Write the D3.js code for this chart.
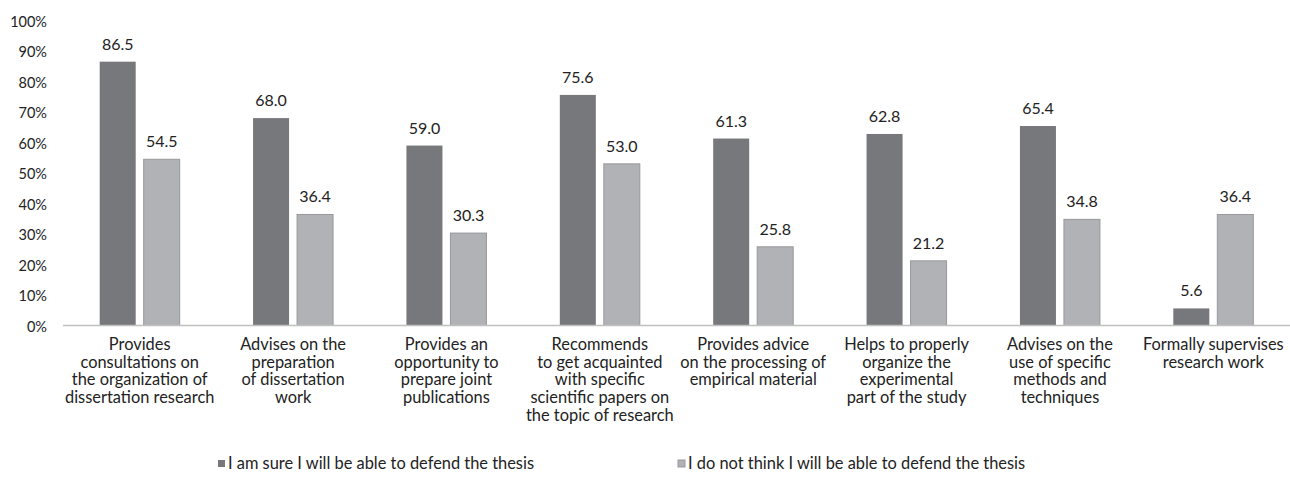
<!DOCTYPE html>
<html><head><meta charset="utf-8">
<script src="https://cdn.jsdelivr.net/npm/d3@7"></script>
<style>body{margin:0;background:#fff}svg text{font-family:"Lato",sans-serif;fill:#222}</style>
</head><body><svg id="c" width="1290" height="497"></svg>
<script>
const categories = [
  ["Provides","consultations on","the organization of","dissertation research"],
  ["Advises on the","preparation","of dissertation","work"],
  ["Provides an","opportunity to","prepare joint","publications"],
  ["Recommends","to get acquainted","with specific","scientific papers on","the topic of research"],
  ["Provides advice","on the processing of","empirical material"],
  ["Helps to properly","organize the","experimental","part of the study"],
  ["Advises on the","use of specific","methods and","techniques"],
  ["Formally supervises","research work"]
];
const seriesNames = ["I am sure I will be able to defend the thesis","I do not think I will be able to defend the thesis"];
const sure = [86.5,68.0,59.0,75.6,61.3,62.8,65.4,5.6];
const notSure = [54.5,36.4,30.3,53.0,25.8,21.2,34.8,36.4];
const yTicks = [0,10,20,30,40,50,60,70,80,90,100];
const colors = ["#77787b","#b1b2b6"];
const strokes = ["#77787b","#97989b"];

const svg = d3.select("#c");
const x0 = d3.scaleBand().domain(d3.range(categories.length)).range([63,1290]);
const y = d3.scaleLinear().domain([0,100]).range([325.5,20.5]);
const barW = 36, gap = 8;

svg.append("g").selectAll("text").data(yTicks).join("text")
  .attr("x",47).attr("y",d=>y(d)+1).attr("dy","0.35em").attr("text-anchor","end")
  .style("font-size","14.5px").text(d=>d+"%");

const data = [sure, notSure];
data.forEach((vals,s)=>{
  const g = svg.append("g");
  g.selectAll("rect").data(vals).join("rect")
    .attr("x",(d,i)=>x0(i)+x0.bandwidth()/2 + (s===0 ? -gap/2-barW : gap/2))
    .attr("y",d=>y(d)).attr("width",barW).attr("height",d=>y(0)-y(d))
    .attr("fill",colors[s]).attr("stroke",strokes[s]).attr("stroke-width",s?1:0);
  g.selectAll("text").data(vals).join("text")
    .attr("x",(d,i)=>x0(i)+x0.bandwidth()/2 + (s===0 ? -gap/2-barW/2 : gap/2+barW/2))
    .attr("y",d=>y(d)-12).attr("text-anchor","middle").style("font-size","16px")
    .text(d=>d.toFixed(1));
});

svg.append("line").attr("x1",63).attr("x2",1290).attr("y1",y(0)).attr("y2",y(0))
  .attr("stroke","#c0c0c0").attr("stroke-width",1.5);

const cl = svg.append("g");
categories.forEach((lines,i)=>{
  const cx = x0(i)+x0.bandwidth()/2;
  const t = cl.append("text").attr("text-anchor","middle").style("font-size","16.4px")
    .attr("x",cx).attr("y",350);
  lines.forEach((l,j)=>t.append("tspan").attr("x",cx).attr("y",350+j*17.7).text(l));
});

const legX = [218,678];
seriesNames.forEach((n,s)=>{
  svg.append("rect").attr("x",legX[s]).attr("y",460).attr("width",7).attr("height",7)
    .attr("fill",colors[s]).attr("stroke",strokes[s]).attr("stroke-width",s?1:0);
  svg.append("text").attr("x",legX[s]+10).attr("y",469).style("font-size","16.4px").text(n);
});
</script></body></html>
